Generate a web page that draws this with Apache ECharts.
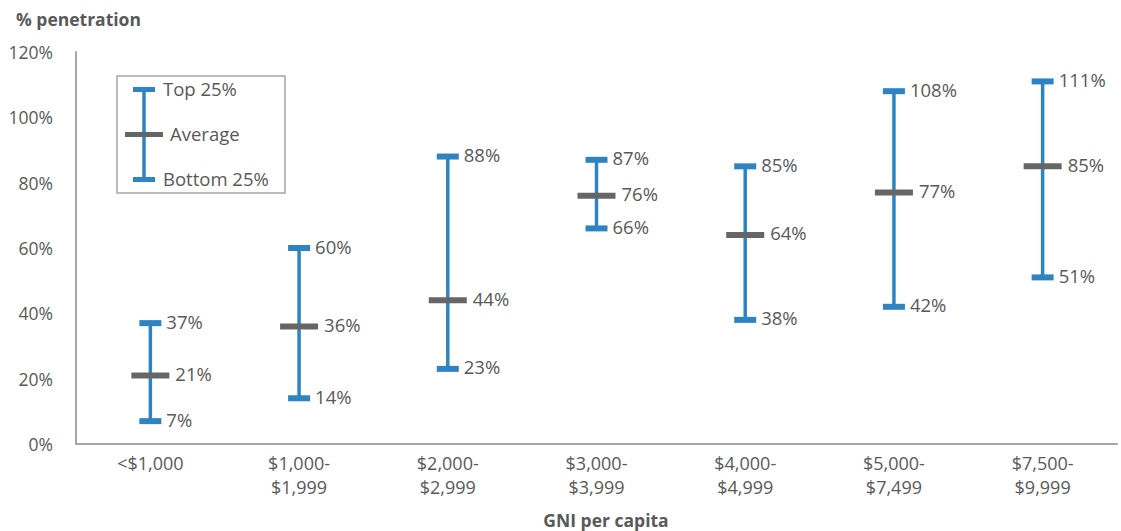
<!DOCTYPE html>
<html>
<head>
<meta charset="utf-8">
<script src="https://cdn.jsdelivr.net/npm/echarts@6/dist/echarts.min.js"></script>
<style>html,body{margin:0;padding:0;background:#fff}#c{width:1121px;height:531px}</style>
</head>
<body>
<div id="c"></div>
<script>
var categories = ['<$1,000', '$1,000-\n$1,999', '$2,000-\n$2,999', '$3,000-\n$3,999', '$4,000-\n$4,999', '$5,000-\n$7,499', '$7,500-\n$9,999'];
var top25 = [37, 60, 88, 87, 85, 108, 111];
var average = [21, 36, 44, 76, 64, 77, 85];
var bottom25 = [7, 14, 23, 66, 38, 42, 51];
var yTicks = [0, 20, 40, 60, 80, 100, 120];

var BLUE = '#2E84C2';
var GRAY = '#666666';
var TEXT = '#595959';
var FONT = '"Open Sans", "Noto Sans", sans-serif';

var chart = echarts.init(document.getElementById('c'), null, {renderer: 'svg'});

var rangeData = categories.map(function (c, i) { return [i, bottom25[i], top25[i]]; });

var labelStyle = {show: true, position: 'right', offset: [0, -2], formatter: '{@[1]}%', color: TEXT, fontSize: 18.5, fontFamily: FONT};

chart.setOption({
  animation: false,
  textStyle: {fontFamily: FONT},
  grid: {left: 76, right: 4, top: 52, bottom: 87},
  title: [
    {text: '% penetration', left: 11, top: 5, textStyle: {fontSize: 17.5, fontWeight: 'bold', color: TEXT, fontFamily: FONT}},
    {text: 'GNI per capita', left: 601, top: 504, textAlign: 'center', textStyle: {fontSize: 17.5, lineHeight: 22, fontWeight: 'bold', color: TEXT, fontFamily: FONT}}
  ],
  xAxis: {
    type: 'category',
    data: categories,
    axisLine: {lineStyle: {color: '#A6A6A6', width: 2}},
    axisTick: {show: false},
    axisLabel: {color: TEXT, fontSize: 18, lineHeight: 24, margin: 7, fontFamily: FONT}
  },
  yAxis: {
    type: 'value',
    min: 0, max: 120, interval: 20,
    axisLine: {show: true, lineStyle: {color: '#A6A6A6', width: 2}},
    axisTick: {show: false},
    splitLine: {show: false},
    axisLabel: {color: TEXT, fontSize: 17.5, margin: 23, fontFamily: FONT,
      formatter: function (v) { return yTicks.indexOf(v) >= 0 ? v + '%' : ''; }}
  },
  series: [
    {
      type: 'custom',
      z: 1,
      data: rangeData,
      renderItem: function (params, api) {
        var p1 = api.coord([api.value(0), api.value(1)]);
        var p2 = api.coord([api.value(0), api.value(2)]);
        return {type: 'line', shape: {x1: p1[0], y1: p1[1], x2: p2[0], y2: p2[1]},
          style: {stroke: BLUE, lineWidth: 3.5}};
      }
    },
    {
      type: 'scatter', z: 2,
      data: categories.map(function (c, i) { return [i, top25[i]]; }),
      symbol: 'rect', symbolSize: [22, 6],
      itemStyle: {color: BLUE, opacity: 1},
      label: Object.assign({distance: 5}, labelStyle)
    },
    {
      type: 'scatter', z: 2,
      data: categories.map(function (c, i) { return [i, bottom25[i]]; }),
      symbol: 'rect', symbolSize: [22, 6],
      itemStyle: {color: BLUE, opacity: 1},
      label: Object.assign({distance: 5}, labelStyle)
    },
    {
      type: 'scatter', z: 3,
      data: categories.map(function (c, i) { return [i, average[i]]; }),
      symbol: 'rect', symbolSize: [38, 6],
      itemStyle: {color: GRAY, opacity: 1},
      label: Object.assign({distance: 6}, labelStyle)
    }
  ],
  graphic: [
    {type: 'rect', shape: {x: 117, y: 76, width: 168, height: 117}, style: {fill: 'none', stroke: '#A6A6A6', lineWidth: 1.5}},
    {type: 'line', shape: {x1: 144, y1: 90, x2: 144, y2: 180}, style: {stroke: BLUE, lineWidth: 3.5}},
    {type: 'rect', shape: {x: 133, y: 87, width: 22, height: 5}, style: {fill: BLUE}},
    {type: 'rect', shape: {x: 133, y: 177, width: 22, height: 5}, style: {fill: BLUE}},
    {type: 'rect', shape: {x: 125, y: 132, width: 38, height: 5}, style: {fill: GRAY}},
    {type: 'text', x: 163, y: 88, style: {text: 'Top 25%', fill: TEXT, fontSize: 18.5, fontFamily: FONT, verticalAlign: 'middle'}},
    {type: 'text', x: 170, y: 133, style: {text: 'Average', fill: TEXT, fontSize: 18.5, fontFamily: FONT, verticalAlign: 'middle'}},
    {type: 'text', x: 163, y: 178, style: {text: 'Bottom 25%', fill: TEXT, fontSize: 18.5, fontFamily: FONT, verticalAlign: 'middle'}}
  ]
});
</script>
</body>
</html>
